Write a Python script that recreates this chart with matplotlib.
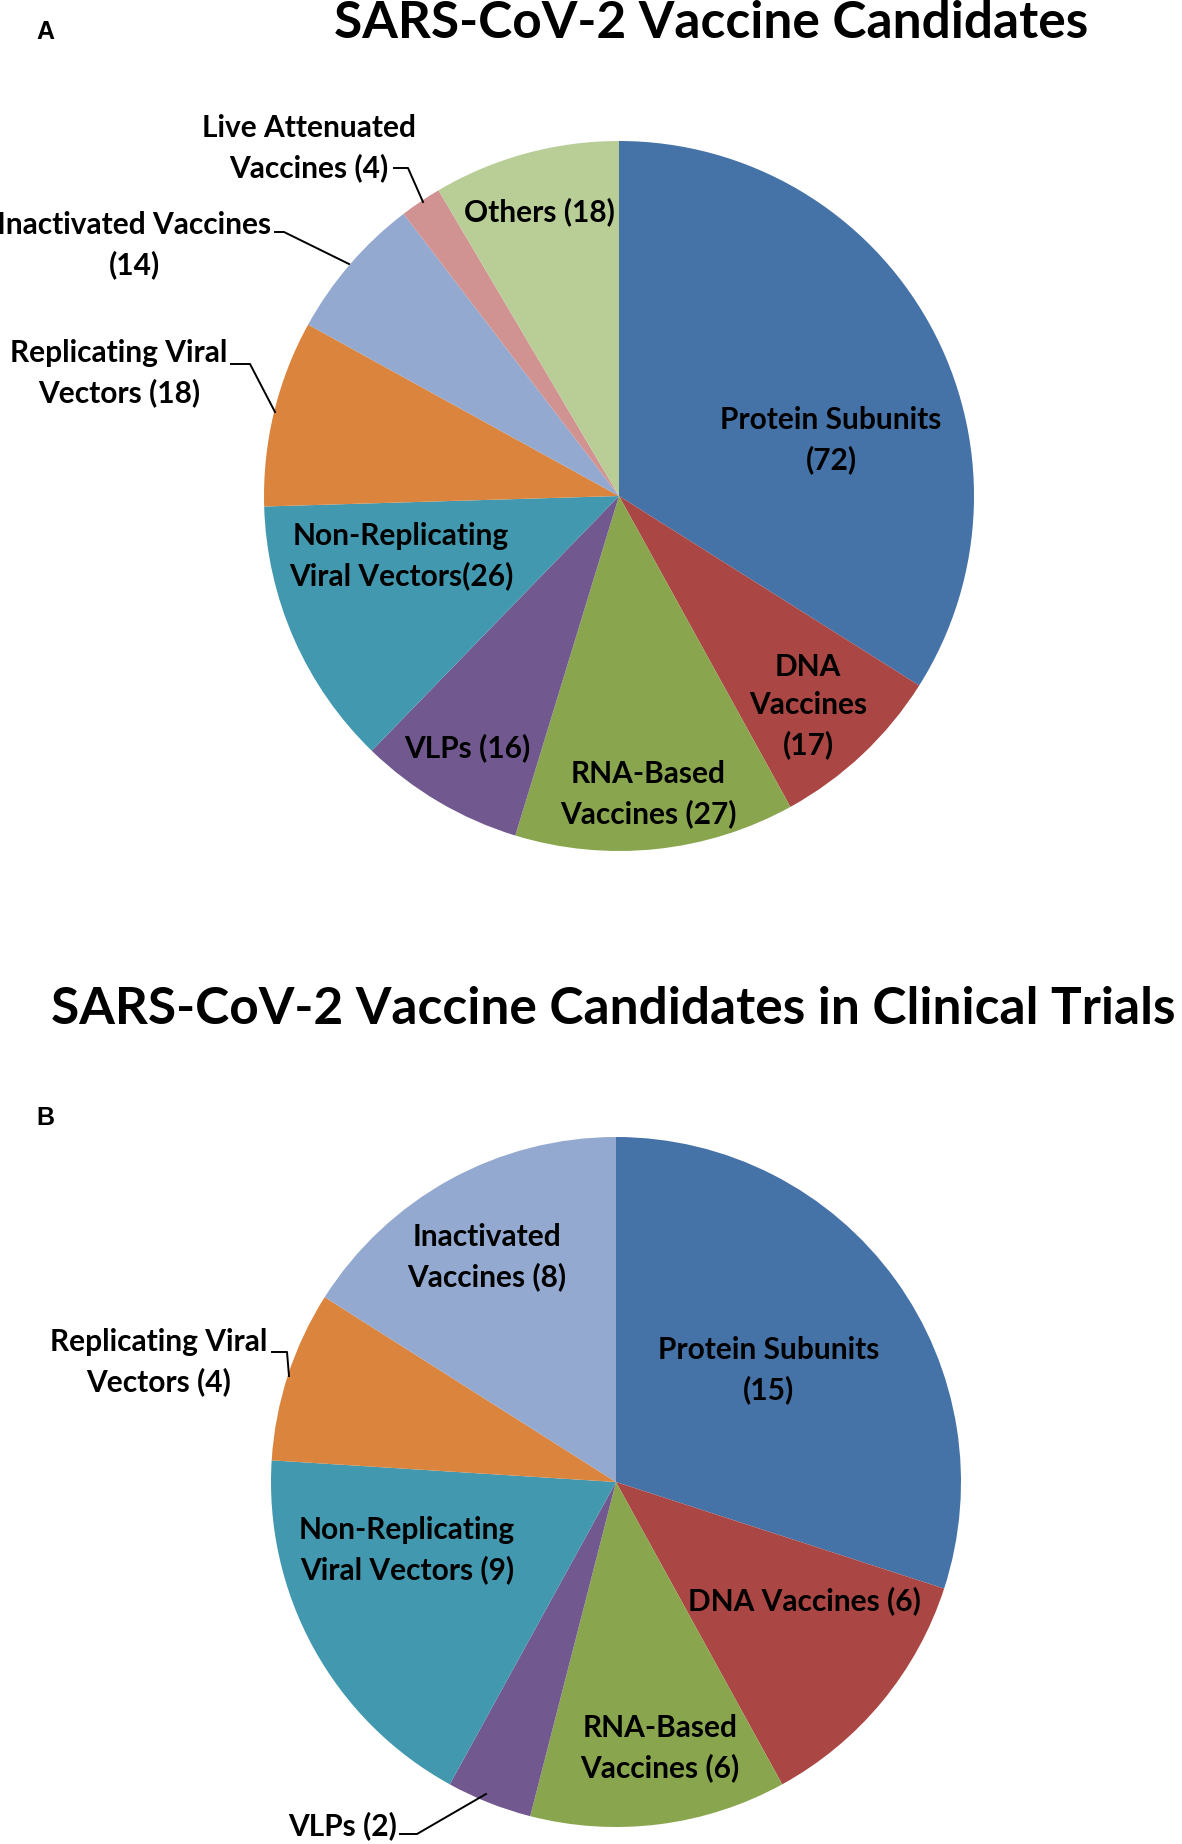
import matplotlib.pyplot as plt

# panel A: all candidates
labels_a = ["Protein Subunits\n(72)", "DNA\nVaccines\n(17)", "RNA-Based\nVaccines (27)",
            "VLPs (16)", "Non-Replicating\nViral Vectors(26)", "Replicating Viral\nVectors (18)",
            "Inactivated Vaccines\n(14)", "Live Attenuated\nVaccines (4)", "Others (18)"]
values_a = [72, 17, 27, 16, 26, 18, 14, 4, 18]

# panel B: candidates in clinical trials
labels_b = ["Protein Subunits\n(15)", "DNA Vaccines (6)", "RNA-Based\nVaccines (6)",
            "VLPs (2)", "Non-Replicating\nViral Vectors (9)", "Replicating Viral\nVectors (4)",
            "Inactivated\nVaccines (8)"]
values_b = [15, 6, 6, 2, 9, 4, 8]

colors_a = ["#4572A7", "#AA4643", "#89A54E", "#71588F", "#4198AF", "#DB843D",
            "#93A9CF", "#D19392", "#B9CD96"]
colors_b = colors_a[:7]

W, H = 1182, 1844
FONT = "Lato"

fig = plt.figure(figsize=(W / 100, H / 100), dpi=100)
ax = fig.add_axes([0, 0, 1, 1])


def Y(y):
    # image rows -> data y
    return H - y


def draw_pie(values, colors, cx, cy, r):
    ax.pie(values, colors=colors, startangle=90, counterclock=False,
           center=(cx, Y(cy)), radius=r, frame=True,
           wedgeprops=dict(linewidth=0))


draw_pie(values_a, colors_a, 619, 496, 355)
draw_pie(values_b, colors_b, 616, 1482, 345)

# label positions (image pixels) and optional leader lines
pos_a = [(831, 440), (808, 706), (648, 794), (467, 748), (401, 556),
         (119, 373), (134, 245), (309, 148), (539, 212)]
lead_a = {5: [(231, 364), (250, 364), (275, 412)],
          6: [(275, 232), (284, 232), (349, 264)],
          7: [(394, 168), (408, 168), (423, 202)]}
pos_b = [(769, 1370), (804, 1601), (660, 1748), (343, 1826), (407, 1550),
         (159, 1362), (487, 1257)]
lead_b = {3: [(400, 1834), (417, 1834), (486, 1794)],
          5: [(272, 1352), (287, 1352), (289, 1376)]}


def draw_labels(labels, pos, leads):
    for i, (lab, (x, y)) in enumerate(zip(labels, pos)):
        ax.text(x, Y(y), lab, ha="center", va="center", fontsize=21.5,
                fontweight="bold", family=FONT, linespacing=1.45, color="black")
        if i in leads:
            xs = [p[0] for p in leads[i]]
            ys = [Y(p[1]) for p in leads[i]]
            ax.plot(xs, ys, color="black", lw=1.4)


draw_labels(labels_a, pos_a, lead_a)
draw_labels(labels_b, pos_b, lead_b)

ax.text(711, Y(24), "SARS-CoV-2 Vaccine Candidates", ha="center", va="center",
        fontsize=37, fontweight="bold", family=FONT)
ax.text(613, Y(1010), "SARS-CoV-2 Vaccine Candidates in Clinical Trials",
        ha="center", va="center", fontsize=37, fontweight="bold", family=FONT)
ax.text(36, Y(32), "A", ha="left", va="center", fontsize=18, fontweight="bold",
        family="Liberation Sans")
ax.text(36, Y(1118), "B", ha="left", va="center", fontsize=18, fontweight="bold",
        family="Liberation Sans")

ax.set_xlim(0, W)
ax.set_ylim(0, H)
ax.set_aspect("equal")
ax.axis("off")

plt.savefig("out.png", dpi=100)
